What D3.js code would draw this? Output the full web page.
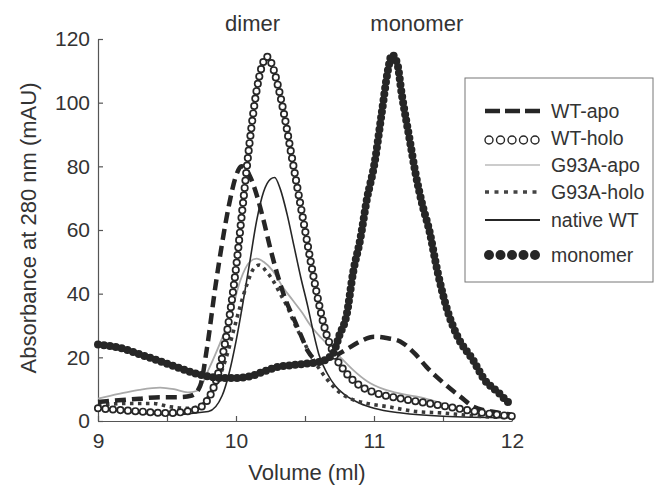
<!DOCTYPE html>
<html>
<head>
<meta charset="utf-8">
<script src="https://cdn.jsdelivr.net/npm/d3@7"></script>
<style>
  body { margin: 0; background: #fff; }
  text { font-family: "Liberation Sans", Arial, sans-serif; fill: #333; }
</style>
</head>
<body>
<svg id="chart" width="668" height="489"></svg>
<script>
// elution profiles: [volume (ml), absorbance (mAU)]
const wtApo = [[9.0,6],[9.15,6.5],[9.3,7],[9.45,7.5],[9.6,7.5],[9.68,8],[9.74,11],[9.79,23],[9.85,42],[9.9,56],[9.95,68],[10.0,77],[10.04,80],[10.1,77],[10.15,71],[10.2,63],[10.25,54],[10.3,46],[10.36,38],[10.41,33],[10.47,27],[10.52,22],[10.6,19],[10.7,20],[10.8,22.5],[10.9,25],[11.0,26.5],[11.1,26],[11.19,25],[11.3,21],[11.38,17],[11.45,14],[11.53,11],[11.63,7.5],[11.72,4.5],[11.85,3],[12.0,2]];
const wtHolo = [[9.0,4],[9.3,3],[9.5,2.5],[9.7,3.5],[9.8,7],[9.85,12],[9.9,20],[9.95,32],[10.0,48],[10.05,68],[10.1,88],[10.15,104],[10.2,113],[10.22,114.5],[10.25,113],[10.3,106],[10.35,96],[10.4,84],[10.45,72],[10.5,60],[10.55,48],[10.6,37],[10.65,28],[10.7,22],[10.8,15],[10.9,11],[11.0,9],[11.2,7],[11.4,5.5],[11.6,4],[11.8,2.5],[12.0,1.5]];
const g93aApo = [[9.0,7],[9.15,8.5],[9.3,9.8],[9.45,10.5],[9.55,10],[9.65,9],[9.72,9.5],[9.81,17],[9.88,24],[9.96,33],[10.03,44],[10.1,50],[10.15,51],[10.2,50],[10.27,47],[10.34,42],[10.41,38],[10.48,34],[10.54,30],[10.62,26],[10.71,22],[10.78,19],[10.85,16],[10.95,12.5],[11.07,10],[11.2,8.5],[11.33,7.5],[11.42,6.5],[11.5,5.5],[11.6,4],[11.75,2.5],[12.0,1.5]];
const g93aHolo = [[9.0,5],[9.2,5.5],[9.4,5.5],[9.52,4.5],[9.65,4],[9.75,5],[9.82,9],[9.88,14],[9.93,20],[9.98,28],[10.03,36],[10.08,43],[10.13,48],[10.17,49],[10.22,47],[10.27,44],[10.32,40],[10.37,36],[10.43,30],[10.49,25],[10.55,20],[10.61,16],[10.68,12],[10.75,9],[10.83,7],[10.95,5.5],[11.1,4.5],[11.3,3],[11.5,2.5],[11.75,1.5],[12.0,1]];
const nativeWT = [[9.0,4],[9.5,2],[9.8,3],[9.9,8],[9.95,15],[10.0,25],[10.05,37],[10.1,50],[10.15,63],[10.2,72],[10.25,76],[10.28,76.5],[10.32,73],[10.37,65],[10.42,55],[10.47,45],[10.52,36],[10.56,28],[10.6,21],[10.66,15],[10.72,11],[10.78,8.5],[10.9,5.5],[11.0,4],[11.2,2.5],[11.5,1.5],[12.0,1]];
const monomer = [[9.0,24],[9.1,23.5],[9.2,22.5],[9.3,21],[9.4,19.5],[9.5,18],[9.6,16.5],[9.7,15],[9.8,14],[9.9,13.5],[10.0,13.5],[10.1,14],[10.2,15.5],[10.3,17],[10.4,17.5],[10.5,18],[10.6,18.5],[10.7,21],[10.75,27],[10.8,33],[10.85,47],[10.9,57],[10.95,70],[11.0,80],[11.06,98],[11.1,110],[11.13,115],[11.17,112],[11.2,103],[11.26,88],[11.3,78],[11.35,68],[11.4,60],[11.46,47],[11.53,35],[11.6,27],[11.72,19],[11.8,13],[11.9,9],[11.97,6],[12.0,5]];

const seriesNames = ["WT-apo", "WT-holo", "G93A-apo", "G93A-holo", "native WT", "monomer"];
const xTicks = [9, 9.5, 10, 10.5, 11, 11.5, 12];
const yTicks = [0, 20, 40, 60, 80, 100, 120];
const peakLabels = [{text: "dimer", v: 10.12}, {text: "monomer", v: 11.31}];

const svg = d3.select("#chart");
const x = d3.scaleLinear().domain([9, 12]).range([98, 512]);
const y = d3.scaleLinear().domain([0, 120]).range([421, 39]);
const ink = "#262626";

const line = d3.line().x(d => x(d[0])).y(d => y(d[1])).curve(d3.curveMonotoneX);

// axes, ticks pointing inward
const yAxis = svg.append("g").attr("transform", "translate(98,0)")
    .call(d3.axisLeft(y).tickValues(yTicks).tickSize(-5).tickSizeOuter(0).tickPadding(8));
const xAxis = svg.append("g").attr("transform", "translate(0,421)")
    .call(d3.axisBottom(x).tickValues(xTicks).tickSize(-5).tickSizeOuter(0).tickPadding(12)
        .tickFormat(d => Number.isInteger(d) ? d : ""));
[yAxis, xAxis].forEach(a => {
    a.selectAll("path, line").attr("stroke", "#555").attr("stroke-width", 1.2);
    a.selectAll("text").style("font-size", "21px").attr("fill", "#333");
});

// curves
svg.append("path").attr("d", line(g93aApo)).attr("fill", "none")
    .attr("stroke", "#aaa").attr("stroke-width", 1.8);
svg.append("path").attr("d", line(nativeWT)).attr("fill", "none")
    .attr("stroke", ink).attr("stroke-width", 1.6);
svg.append("path").attr("d", line(g93aHolo)).attr("fill", "none")
    .attr("stroke", "#3a3a3a").attr("stroke-width", 3.6).attr("stroke-dasharray", "3.5,4.5");
svg.append("path").attr("d", line(wtApo)).attr("fill", "none")
    .attr("stroke", ink).attr("stroke-width", 4.5).attr("stroke-dasharray", "11,6");

// open circles for WT-holo, spaced along the drawn curve
const holoPath = svg.append("path").attr("d", line(wtHolo)).attr("fill", "none").attr("stroke", "none");
const len = holoPath.node().getTotalLength();
const holoPts = d3.range(0, len, 7.5).map(l => holoPath.node().getPointAtLength(l));
svg.append("g").selectAll("circle").data(holoPts).join("circle")
    .attr("cx", p => p.x).attr("cy", p => p.y).attr("r", 3.2)
    .attr("fill", "#fff").attr("stroke", ink).attr("stroke-width", 1.7);

svg.append("path").attr("d", line(monomer)).attr("fill", "none")
    .attr("stroke", ink).attr("stroke-width", 8).attr("stroke-linecap", "round")
    .attr("stroke-dasharray", "0,6");

// peak labels
svg.append("g").selectAll("text").data(peakLabels).join("text")
    .attr("x", d => x(d.v)).attr("y", 31).attr("text-anchor", "middle")
    .style("font-size", "22px").text(d => d.text);

// axis titles
svg.append("text").attr("transform", "translate(36,228) rotate(-90)")
    .attr("text-anchor", "middle").style("font-size", "22px")
    .text("Absorbance at 280 nm (mAU)");
svg.append("text").attr("x", 307).attr("y", 480).attr("text-anchor", "middle")
    .style("font-size", "22px").text("Volume (ml)");

// legend
const lg = svg.append("g");
lg.append("rect").attr("x", 465).attr("y", 78).attr("width", 188).attr("height", 204)
    .attr("fill", "#fff").attr("stroke", "#777").attr("stroke-width", 1);
const rowY = [111, 138, 165, 192, 220, 255];
const x0 = 485, x1 = 540;
seriesNames.forEach((name, i) => {
    const yy = rowY[i];
    lg.append("text").attr("x", 551).attr("y", yy + 7).style("font-size", "19.5px").text(name);
    if (name === "WT-holo") {
        lg.selectAll(null).data(d3.range(5)).join("circle")
            .attr("cx", k => x0 + 4 + k * 11.5).attr("cy", yy + 2).attr("r", 4)
            .attr("fill", "#fff").attr("stroke", ink).attr("stroke-width", 1.4);
    } else if (name === "monomer") {
        lg.selectAll(null).data(d3.range(5)).join("circle")
            .attr("cx", k => x0 + 4 + k * 11.5).attr("cy", yy).attr("r", 5)
            .attr("fill", ink);
    } else {
        const l = lg.append("line").attr("x1", x0).attr("x2", x1).attr("y1", yy).attr("y2", yy)
            .attr("fill", "none");
        if (name === "WT-apo") l.attr("stroke", ink).attr("stroke-width", 4.5).attr("stroke-dasharray", "15,5");
        if (name === "G93A-apo") l.attr("stroke", "#bbb").attr("stroke-width", 1.5);
        if (name === "G93A-holo") l.attr("stroke", "#444").attr("stroke-width", 3.5).attr("stroke-dasharray", "4,5.5");
        if (name === "native WT") l.attr("stroke", ink).attr("stroke-width", 2);
    }
});
</script>
</body>
</html>
